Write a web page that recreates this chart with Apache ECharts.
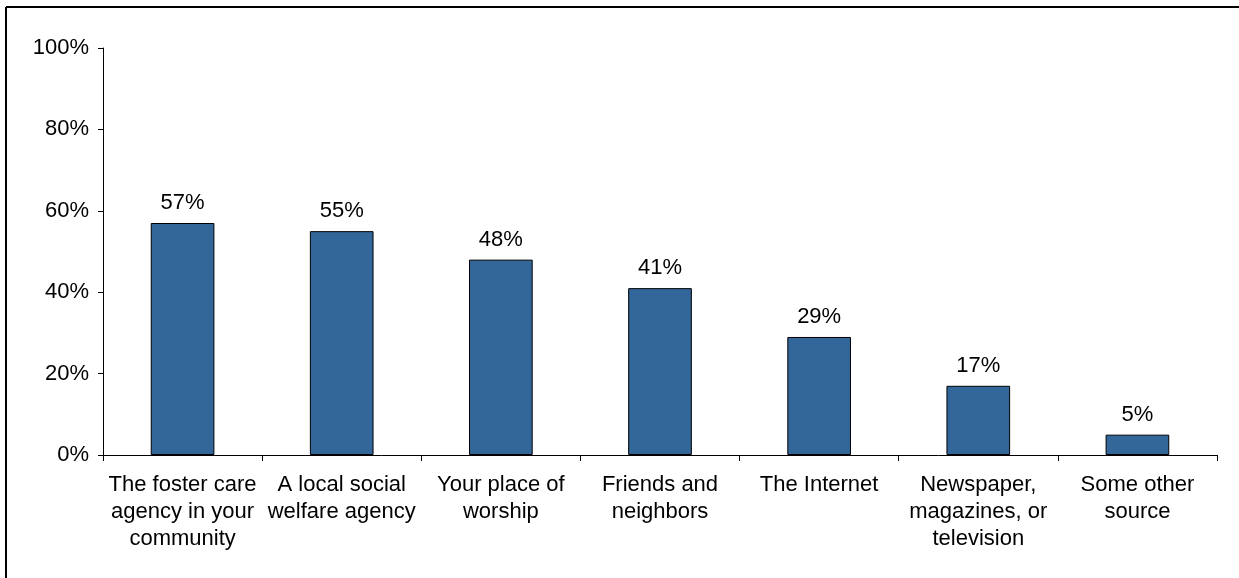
<!DOCTYPE html>
<html>
<head>
<meta charset="utf-8">
<script src="https://cdn.jsdelivr.net/npm/echarts@6/dist/echarts.min.js"></script>
<style>
  html, body { margin: 0; padding: 0; background: #fff; }
  #chart { width: 1239px; height: 578px; }
</style>
</head>
<body>
<div id="chart"></div>
<script>
// 类别与数值
const categories = [
  "The foster care\nagency in your\ncommunity",
  "A local social\nwelfare agency",
  "Your place of\nworship",
  "Friends and\nneighbors",
  "The Internet",
  "Newspaper,\nmagazines, or\ntelevision",
  "Some other\nsource"
];
const values = [57, 55, 48, 41, 29, 17, 5];
const yTicks = [0, 20, 40, 60, 80, 100];

const chart = echarts.init(document.getElementById("chart"));
const font = "Liberation Sans, Arial, sans-serif";

chart.setOption({
  animation: false,
  grid: { left: 103, right: 22, top: 48, bottom: 123 },
  // 左边和上边的框线
  graphic: [
    { type: "line", shape: { x1: 6, y1: 7, x2: 6, y2: 578 }, style: { stroke: "#000", lineWidth: 2 } },
    { type: "line", shape: { x1: 6, y1: 7, x2: 1239, y2: 7 }, style: { stroke: "#000", lineWidth: 2 } }
  ],
  xAxis: {
    type: "category",
    data: categories,
    axisLine: { lineStyle: { color: "#000", width: 1 } },
    axisTick: { show: true, length: 6, lineStyle: { color: "#000" } },
    axisLabel: {
      color: "#000", fontFamily: font, fontSize: 22, lineHeight: 27,
      margin: 16, interval: 0, align: "center"
    }
  },
  yAxis: {
    type: "value",
    min: yTicks[0],
    max: yTicks[yTicks.length - 1],
    interval: 20,
    axisLine: { show: true, lineStyle: { color: "#000", width: 1 } },
    axisTick: { show: true, length: 5, lineStyle: { color: "#000" } },
    splitLine: { show: false },
    axisLabel: {
      color: "#000", fontFamily: font, fontSize: 22, margin: 14,
      formatter: v => v + "%"
    }
  },
  series: [{
    type: "bar",
    data: values,
    barWidth: "40%",
    itemStyle: { color: "#336699", borderColor: "#000", borderWidth: 1 },
    label: {
      show: true, position: "top", distance: 9,
      color: "#000", fontFamily: font, fontSize: 22,
      formatter: p => p.value + "%"
    }
  }]
});
</script>
</body>
</html>
